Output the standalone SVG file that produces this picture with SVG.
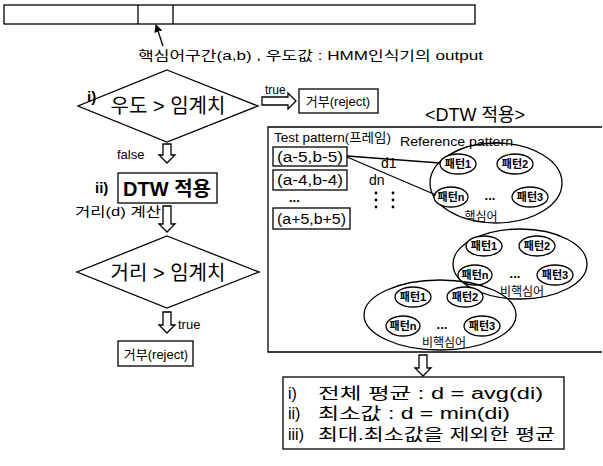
<svg xmlns="http://www.w3.org/2000/svg" width="603" height="466" viewBox="0 0 603 466">
<style>
text{font-family:"Liberation Sans","Noto Sans CJK KR",sans-serif;fill:#000}
.s{fill:none;stroke:#000;stroke-width:1.3}
.w{fill:#fff;stroke:#000;stroke-width:1.3}
.t12{font-size:12px}
.t13{font-size:13px}
.t11{font-size:11px;font-weight:bold}
.t14{font-size:14px}
.t16{font-size:16px}
.t20{font-size:20px}
.m{text-anchor:middle}
.dot{fill:#000}
</style>
<defs>
<marker id="ah" markerWidth="8" markerHeight="8" refX="7" refY="4" orient="auto" markerUnits="userSpaceOnUse">
<path d="M0,0 L8,4 L0,8 Z" fill="#000"/>
</marker>
</defs>
<rect width="603" height="466" fill="#fff"/>

<g id="bar">
<rect class="s" x="4" y="5" width="471" height="19"/>
<line class="s" x1="138" y1="5" x2="138" y2="24"/>
<line class="s" x1="173" y1="5" x2="173" y2="24"/>
</g>
<g id="hmm-label">
<text class="t13" x="138" y="60" textLength="345" lengthAdjust="spacingAndGlyphs">핵심어구간(a,b) , 우도값 : HMM인식기의 output</text>
</g>

<g id="dec1">
<polygon class="s" points="167,70 258,106 167,142 78,106"/>
<text x="87" y="102" style="font-size:15px;font-weight:bold">i)</text>
<text class="t20 m" x="168" y="113">우도 &gt; 임계치</text>
</g>

<g id="reject1">
<rect class="s" x="299" y="89" width="79" height="24"/>
<text class="t13 m" x="338" y="106">거부(reject)</text>
</g>

<g id="dtw">
<text x="95" y="193" style="font-size:15px;font-weight:bold">ii)</text>
<rect class="s" x="118" y="173" width="99" height="30"/>
<text class="m" x="167" y="196" style="font-size:20px;font-weight:bold">DTW 적용</text>
</g>

<g id="dec2">
<polygon class="s" points="167,236 259,272 167,308 77,272"/>
<text class="t20 m" x="168" y="280">거리 &gt; 임계치</text>
</g>

<g id="reject2">
<rect class="s" x="118" y="341" width="75" height="25"/>
<text class="t13 m" x="156" y="359">거부(reject)</text>
</g>

<g id="dtw-panel">
<path class="s" d="M602,127 H268 V352 H602"/>
<text class="m" x="475" y="121" style="font-size:18px">&lt;DTW 적용&gt;</text>
<text class="t13" x="274" y="142" textLength="117" lengthAdjust="spacingAndGlyphs">Test pattern(프레임)</text>
<text class="t13" x="400" y="146" textLength="113" lengthAdjust="spacingAndGlyphs">Reference pattern</text>
</g>

<g id="frame1">
<rect class="s" x="273" y="147" width="74" height="19"/>
<text class="t14" x="277" y="162" textLength="66" lengthAdjust="spacingAndGlyphs">(a-5,b-5)</text>
</g>
<g id="frame2">
<rect class="s" x="273" y="170" width="74" height="20"/>
<text class="t14" x="277" y="185" textLength="66" lengthAdjust="spacingAndGlyphs">(a-4,b-4)</text>
</g>
<g id="frame-dots">
<text class="t13" x="289" y="202" style="font-weight:bold">...</text>
<circle class="dot" cx="376" cy="193" r="1.4"/><circle class="dot" cx="376" cy="200" r="1.4"/><circle class="dot" cx="376" cy="207" r="1.4"/>
<circle class="dot" cx="393" cy="193" r="1.4"/><circle class="dot" cx="393" cy="200" r="1.4"/><circle class="dot" cx="393" cy="207" r="1.4"/>
</g>
<g id="frame3">
<rect class="s" x="273" y="208" width="77" height="21"/>
<text class="t14" x="277" y="224" textLength="69" lengthAdjust="spacingAndGlyphs">(a+5,b+5)</text>
</g>

<g id="kw">
<ellipse class="s" cx="496" cy="183" rx="66" ry="40"/>
<ellipse class="w" cx="458" cy="164" rx="18" ry="10"/><text class="t11 m" x="458" y="168">패턴1</text>
<ellipse class="w" cx="515" cy="164" rx="18" ry="10"/><text class="t11 m" x="515" y="168">패턴2</text>
<ellipse class="w" cx="451" cy="197" rx="17" ry="10"/><text class="t11 m" x="451" y="201">패턴n</text>
<ellipse class="w" cx="530" cy="197" rx="18" ry="10"/><text class="t11 m" x="530" y="201">패턴3</text>
<text class="t13 m" x="490" y="200" style="font-weight:bold">...</text>
<text class="t12 m" x="481" y="221">핵심어</text>
</g>

<g id="nkw1">
<ellipse class="s" cx="520" cy="264" rx="67" ry="35"/>
<ellipse class="w" cx="484" cy="246" rx="18" ry="10"/><text class="t11 m" x="484" y="250">패턴1</text>
<ellipse class="w" cx="537" cy="246" rx="18" ry="10"/><text class="t11 m" x="537" y="250">패턴2</text>
<ellipse class="w" cx="475" cy="275" rx="17" ry="10"/><text class="t11 m" x="475" y="279">패턴n</text>
<ellipse class="w" cx="555" cy="275" rx="18" ry="10"/><text class="t11 m" x="555" y="279">패턴3</text>
<text class="t13 m" x="515" y="278" style="font-weight:bold">...</text>
<text class="t12 m" x="522" y="296">비핵심어</text>
</g>

<g id="nkw2">
<ellipse class="s" cx="440" cy="315" rx="76" ry="35"/>
<ellipse class="w" cx="413" cy="297" rx="18" ry="10"/><text class="t11 m" x="413" y="301">패턴1</text>
<ellipse class="w" cx="465" cy="297" rx="18" ry="10"/><text class="t11 m" x="465" y="301">패턴2</text>
<ellipse class="w" cx="403" cy="326" rx="17" ry="10"/><text class="t11 m" x="403" y="330">패턴n</text>
<ellipse class="w" cx="482" cy="326" rx="18" ry="10"/><text class="t11 m" x="482" y="330">패턴3</text>
<text class="t13 m" x="442" y="329" style="font-weight:bold">...</text>
<text class="t12 m" x="444" y="347">비핵심어</text>
</g>

<g id="result">
<rect class="s" x="283" y="377" width="281" height="72"/>
<text class="t16" x="288" y="399">i)</text><text class="t16" x="318" y="399" textLength="225" lengthAdjust="spacingAndGlyphs">전체 평균 : d = avg(di)</text>
<text class="t16" x="288" y="419">ii)</text><text class="t16" x="318" y="419" textLength="192" lengthAdjust="spacingAndGlyphs">최소값 : d = min(di)</text>
<text class="t16" x="288" y="440">iii)</text><text class="t16" x="318" y="440" textLength="237" lengthAdjust="spacingAndGlyphs">최대.최소값을 제외한 평균</text>
</g>

<g id="connectors">
<line class="s" x1="163" y1="46" x2="156" y2="25" marker-end="url(#ah)"/>
<path class="s" d="M262,97 H288 V93 L296,101 L288,109 V105 H262 Z"/>
<text class="t12" x="265" y="94">true</text>
<path class="s" d="M163,144 H171 V155 H175 L167,163 L159,155 H163 Z"/>
<text class="t13" x="117" y="159">false</text>
<path class="s" d="M163,206 H171 V224 H175 L167,232 L159,224 H163 Z"/>
<text class="t13" x="75" y="216" textLength="86" lengthAdjust="spacingAndGlyphs">거리(d) 계산</text>
<path class="s" d="M163,312 H171 V325 H175 L167,333 L159,325 H163 Z"/>
<text class="t13" x="178" y="329">true</text>
<path class="s" d="M419,355 H427 V368 H431 L423,376 L415,368 H419 Z"/>
<line class="s" x1="347" y1="156" x2="440" y2="163"/>
<line class="s" x1="347" y1="157" x2="436" y2="195"/>
<text class="t14" x="381" y="168">d1</text>
<text class="t14" x="369" y="185">dn</text>
</g>
</svg>
